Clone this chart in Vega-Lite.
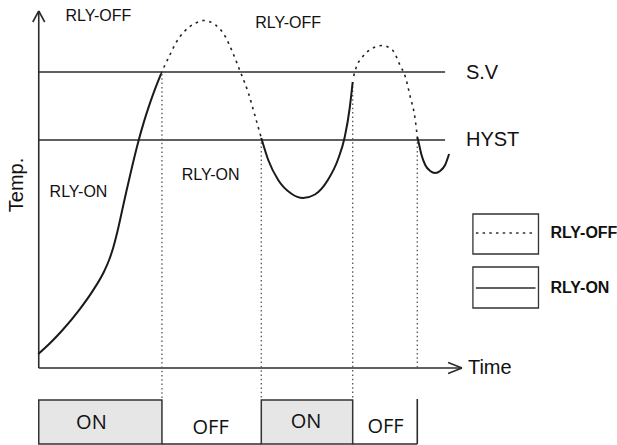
{
  "$schema": "https://vega.github.io/schema/vega-lite/v6.json",
  "width": 617,
  "height": 445,
  "autosize": {"type": "fit", "contains": "padding"},
  "padding": 0,
  "background": "white",
  "config": {"view": {"stroke": null}},
  "layer": [
    {
      "data": {"values": [
        {"x": 39, "x2": 163, "y": 400, "y2": 444, "state": "ON"},
        {"x": 263, "x2": 355, "y": 400, "y2": 444, "state": "ON"}
      ]},
      "mark": {"type": "rect", "fill": "#e6e6e6", "stroke": "#333333", "strokeWidth": 1.5},
      "encoding": {
        "x": {"field": "x", "type": "quantitative", "scale": {"domain": [0, 617], "nice": false, "zero": false}, "axis": null},
        "x2": {"field": "x2"},
        "y": {"field": "y", "type": "quantitative", "scale": {"domain": [0, 445], "nice": false, "zero": false, "reverse": true}, "axis": null},
        "y2": {"field": "y2"}
      }
    },
    {
      "data": {"values": [
        {"x": 476, "x2": 542, "y": 214, "y2": 254},
        {"x": 476, "x2": 542, "y": 267, "y2": 308}
      ]},
      "mark": {"type": "rect", "fill": "white", "stroke": "#333333", "strokeWidth": 1.3},
      "encoding": {
        "x": {"field": "x", "type": "quantitative"},
        "x2": {"field": "x2"},
        "y": {"field": "y", "type": "quantitative"},
        "y2": {"field": "y2"}
      }
    },
    {
      "data": {"values": [
        {"x": 39, "y": 11, "x2": 39, "y2": 368},
        {"x": 39, "y": 368, "x2": 465, "y2": 368},
        {"x": 33, "y": 22, "x2": 39, "y2": 11},
        {"x": 45, "y": 22, "x2": 39, "y2": 11},
        {"x": 451, "y": 362.5, "x2": 465, "y2": 368},
        {"x": 451, "y": 373.5, "x2": 465, "y2": 368},
        {"x": 39, "y": 72, "x2": 448, "y2": 72},
        {"x": 39, "y": 140, "x2": 448, "y2": 140},
        {"x": 163, "y": 444, "x2": 263, "y2": 444},
        {"x": 355, "y": 444, "x2": 420, "y2": 444},
        {"x": 420, "y": 399, "x2": 420, "y2": 444},
        {"x": 479, "y": 288, "x2": 539, "y2": 288}
      ]},
      "mark": {"type": "rule", "color": "#2b2b2b", "strokeWidth": 1.6},
      "encoding": {
        "x": {"field": "x", "type": "quantitative"},
        "y": {"field": "y", "type": "quantitative"},
        "x2": {"field": "x2"},
        "y2": {"field": "y2"}
      }
    },
    {
      "data": {"values": [
        {"x": 163, "y": 74, "x2": 163, "y2": 399},
        {"x": 263, "y": 138, "x2": 263, "y2": 399},
        {"x": 355, "y": 82, "x2": 355, "y2": 399},
        {"x": 420, "y": 138, "x2": 420, "y2": 367}
      ]},
      "mark": {"type": "rule", "color": "#555555", "strokeWidth": 1.3, "strokeDash": [1.5, 2.8]},
      "encoding": {
        "x": {"field": "x", "type": "quantitative"},
        "y": {"field": "y", "type": "quantitative"},
        "x2": {"field": "x2"},
        "y2": {"field": "y2"}
      }
    },
    {
      "data": {"values": [
        {"x": 479, "y": 233, "x2": 539, "y2": 233}
      ]},
      "mark": {"type": "rule", "color": "#333333", "strokeWidth": 1.3, "strokeDash": [2.5, 4.2]},
      "encoding": {
        "x": {"field": "x", "type": "quantitative"},
        "y": {"field": "y", "type": "quantitative"},
        "x2": {"field": "x2"},
        "y2": {"field": "y2"}
      }
    },
    {
      "data": {"values": [
        {"seg": "s1", "x": 38.5, "y": 354},
        {"seg": "s1", "x": 50, "y": 343.5},
        {"seg": "s1", "x": 63, "y": 330},
        {"seg": "s1", "x": 80, "y": 309.6},
        {"seg": "s1", "x": 93, "y": 291.4},
        {"seg": "s1", "x": 105, "y": 271},
        {"seg": "s1", "x": 110, "y": 259.5},
        {"seg": "s1", "x": 114, "y": 247.5},
        {"seg": "s1", "x": 118, "y": 232.3},
        {"seg": "s1", "x": 122, "y": 214.7},
        {"seg": "s1", "x": 127, "y": 192.2},
        {"seg": "s1", "x": 133, "y": 166.4},
        {"seg": "s1", "x": 139, "y": 142.4},
        {"seg": "s1", "x": 145, "y": 121.4},
        {"seg": "s1", "x": 150, "y": 105.9},
        {"seg": "s1", "x": 156, "y": 89.1},
        {"seg": "s1", "x": 162, "y": 74},
        {"seg": "s2", "x": 263, "y": 138},
        {"seg": "s2", "x": 270, "y": 160},
        {"seg": "s2", "x": 280, "y": 180},
        {"seg": "s2", "x": 293, "y": 193.5},
        {"seg": "s2", "x": 305, "y": 198},
        {"seg": "s2", "x": 317, "y": 194.5},
        {"seg": "s2", "x": 330, "y": 180},
        {"seg": "s2", "x": 340, "y": 160},
        {"seg": "s2", "x": 347, "y": 137},
        {"seg": "s2", "x": 352, "y": 108},
        {"seg": "s2", "x": 355, "y": 82},
        {"seg": "s3", "x": 420, "y": 137},
        {"seg": "s3", "x": 421.5, "y": 143},
        {"seg": "s3", "x": 424, "y": 154},
        {"seg": "s3", "x": 428, "y": 165},
        {"seg": "s3", "x": 433, "y": 171},
        {"seg": "s3", "x": 438, "y": 173},
        {"seg": "s3", "x": 443, "y": 171},
        {"seg": "s3", "x": 448, "y": 165},
        {"seg": "s3", "x": 452, "y": 154}
      ]},
      "mark": {"type": "line", "color": "#1a1a1a", "strokeWidth": 2, "interpolate": "monotone"},
      "encoding": {
        "x": {"field": "x", "type": "quantitative"},
        "y": {"field": "y", "type": "quantitative"},
        "detail": {"field": "seg"}
      }
    },
    {
      "data": {"values": [
        {"seg": "d1", "x": 162, "y": 74},
        {"seg": "d1", "x": 166, "y": 65},
        {"seg": "d1", "x": 170, "y": 57},
        {"seg": "d1", "x": 177, "y": 43},
        {"seg": "d1", "x": 185, "y": 32},
        {"seg": "d1", "x": 197, "y": 23},
        {"seg": "d1", "x": 205, "y": 20.5},
        {"seg": "d1", "x": 217, "y": 25},
        {"seg": "d1", "x": 227, "y": 37},
        {"seg": "d1", "x": 234, "y": 52},
        {"seg": "d1", "x": 242, "y": 72},
        {"seg": "d1", "x": 250, "y": 93},
        {"seg": "d1", "x": 257, "y": 117},
        {"seg": "d1", "x": 263, "y": 138},
        {"seg": "d2", "x": 356, "y": 76},
        {"seg": "d2", "x": 359, "y": 66},
        {"seg": "d2", "x": 364, "y": 58},
        {"seg": "d2", "x": 372, "y": 50},
        {"seg": "d2", "x": 385, "y": 45.5},
        {"seg": "d2", "x": 395, "y": 50},
        {"seg": "d2", "x": 403, "y": 66},
        {"seg": "d2", "x": 407, "y": 74},
        {"seg": "d2", "x": 413, "y": 97},
        {"seg": "d2", "x": 418, "y": 120},
        {"seg": "d2", "x": 420, "y": 137}
      ]},
      "mark": {"type": "line", "color": "#222222", "strokeWidth": 1.6, "strokeDash": [2.5, 4.5], "interpolate": "monotone"},
      "encoding": {
        "x": {"field": "x", "type": "quantitative"},
        "y": {"field": "y", "type": "quantitative"},
        "detail": {"field": "seg"}
      }
    },
    {
      "data": {"values": [
        {"label": "RLY-OFF", "x": 99, "y": 16},
        {"label": "RLY-OFF", "x": 290, "y": 23},
        {"label": "RLY-ON", "x": 79, "y": 192},
        {"label": "RLY-ON", "x": 212, "y": 175}
      ]},
      "mark": {"type": "text", "font": "Liberation Sans", "fontSize": 16, "align": "center", "baseline": "middle", "color": "#111111"},
      "encoding": {
        "x": {"field": "x", "type": "quantitative"},
        "y": {"field": "y", "type": "quantitative"},
        "text": {"field": "label"}
      }
    },
    {
      "data": {"values": [
        {"label": "S.V", "x": 469, "y": 73},
        {"label": "HYST", "x": 469, "y": 140},
        {"label": "Time", "x": 471, "y": 368}
      ]},
      "mark": {"type": "text", "font": "Liberation Sans", "fontSize": 20, "align": "left", "baseline": "middle", "color": "#111111"},
      "encoding": {
        "x": {"field": "x", "type": "quantitative"},
        "y": {"field": "y", "type": "quantitative"},
        "text": {"field": "label"}
      }
    },
    {
      "data": {"values": [
        {"label": "Temp.", "x": 17, "y": 185}
      ]},
      "mark": {"type": "text", "font": "Liberation Sans", "fontSize": 20, "align": "center", "baseline": "middle", "angle": 270, "color": "#111111"},
      "encoding": {
        "x": {"field": "x", "type": "quantitative"},
        "y": {"field": "y", "type": "quantitative"},
        "text": {"field": "label"}
      }
    },
    {
      "data": {"values": [
        {"label": "RLY-OFF", "x": 554, "y": 233},
        {"label": "RLY-ON", "x": 554, "y": 288}
      ]},
      "mark": {"type": "text", "font": "Liberation Sans", "fontSize": 16, "fontWeight": "bold", "align": "left", "baseline": "middle", "color": "#111111"},
      "encoding": {
        "x": {"field": "x", "type": "quantitative"},
        "y": {"field": "y", "type": "quantitative"},
        "text": {"field": "label"}
      }
    },
    {
      "data": {"values": [
        {"label": "ON", "x": 92, "y": 423},
        {"label": "OFF", "x": 212, "y": 428},
        {"label": "ON", "x": 308, "y": 422},
        {"label": "OFF", "x": 388, "y": 427}
      ]},
      "mark": {"type": "text", "font": "Open Sans", "fontSize": 20, "align": "center", "baseline": "middle", "color": "#111111"},
      "encoding": {
        "x": {"field": "x", "type": "quantitative"},
        "y": {"field": "y", "type": "quantitative"},
        "text": {"field": "label"}
      }
    }
  ]
}
